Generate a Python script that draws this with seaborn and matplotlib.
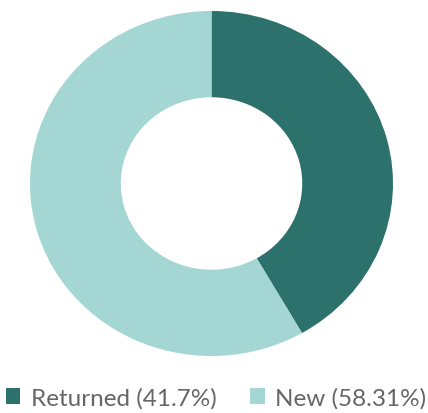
import matplotlib
matplotlib.use("Agg")
import matplotlib.pyplot as plt
import seaborn as sns
from matplotlib.patches import Patch

labels = ["Returned", "New"]
values = [41.7, 58.31]
colors = ["#2c716c", "#a4d6d4"]

sns.set_theme(style="white")
plt.rcParams['font.family'] = ['Lato', 'DejaVu Sans']

fig = plt.figure(figsize=(4.28, 4.14), dpi=100)
ax = fig.add_axes([30/428, (414-357)/414, 363/428, 345/414])
ax.pie(values, colors=colors, startangle=90, counterclock=False,
       radius=1.0, wedgeprops=dict(width=0.5, linewidth=0))
ax.set_aspect('auto')
ax.set_xlim(-1, 1)
ax.set_ylim(-1, 1)
ax.axis('off')

handles = [Patch(facecolor=c, edgecolor='none') for c in colors]
leg_labels = [f"{l} ({v}%)" for l, v in zip(labels, values)]
fig.legend(handles, leg_labels, loc='center', bbox_to_anchor=(216/428, 1 - 399/414),
           ncol=2, frameon=False, fontsize=17.5, labelcolor='#666666',
           handlelength=0.6, handleheight=0.6, handletextpad=0.42,
           columnspacing=1.4, borderaxespad=0, borderpad=0)

fig.savefig("out.png", dpi=100)
